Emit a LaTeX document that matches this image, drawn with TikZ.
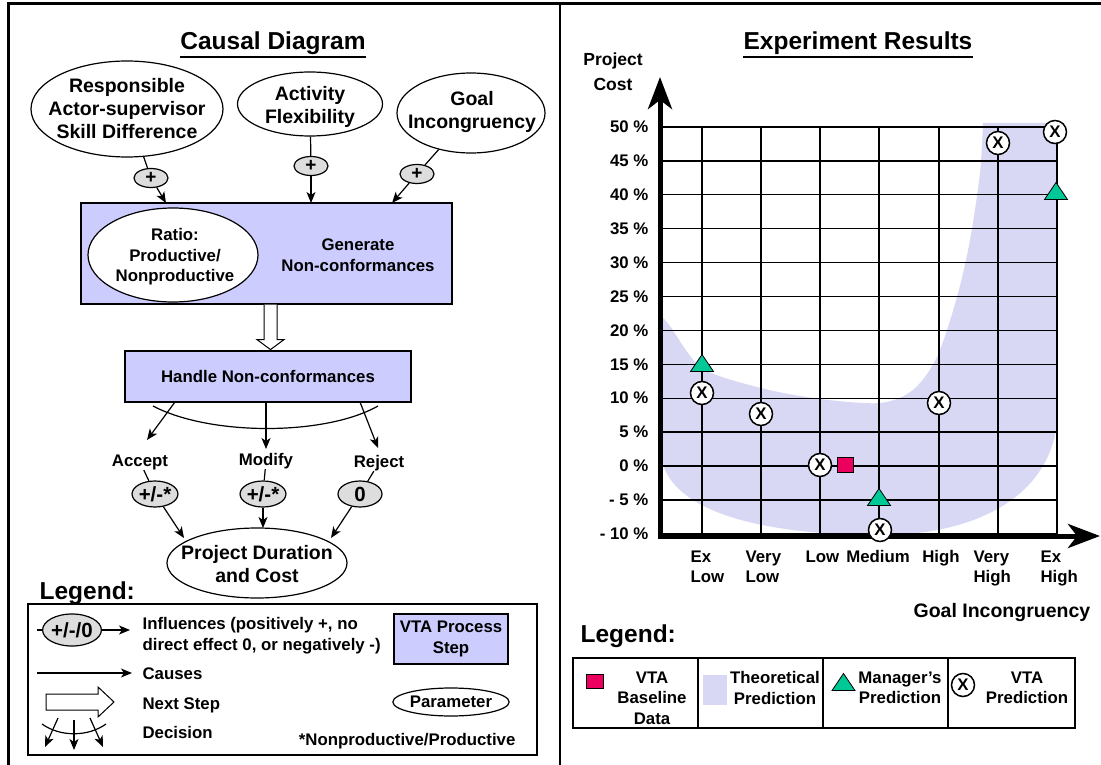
\documentclass[tikz,border=0pt]{standalone}
\usepackage{fontspec}
\setmainfont{Liberation Sans}
\usetikzlibrary{shapes.geometric,arrows.meta,calc}
\newcommand\fsmall{\fontsize{16.8}{20.5}\selectfont}
\newcommand\fmid{\fontsize{19.5}{23}\selectfont}
\newcommand\fbig{\fontsize{24.5}{29}\selectfont}
\newcommand\fbadge{\fontsize{20.5}{20.5}\selectfont}
\definecolor{procblue}{RGB}{204,204,255}
\definecolor{badgegray}{RGB}{221,221,221}
\definecolor{hatchblue}{RGB}{216,216,245}
\definecolor{mgrgreen}{RGB}{0,200,150}
\definecolor{basepink}{RGB}{235,0,95}
\begin{document}
\begin{tikzpicture}[x=1pt,y=-1pt,font=\bfseries\fsmall,line width=1.2pt,
 param/.style={ellipse,draw,fill=white,inner sep=0pt},
 badge/.style={ellipse,draw,fill=badgegray,inner sep=0pt},
 plusbadge/.style={badge,minimum width=34pt,minimum height=19pt,font=\bfseries\fontsize{19}{19}\selectfont},
 proc/.style={rectangle,draw,fill=procblue,inner sep=0pt},
 arr/.style={-{Stealth[length=11pt,width=9pt,inset=3pt]}},
 txt/.style={align=center,inner sep=0pt},
 lbl/.style={inner sep=0pt,anchor=base},
 lblw/.style={inner sep=0pt,anchor=base west},
 grid/.style={line width=1.3pt},
 axis/.style={line width=5pt,-{Stealth[length=32pt,width=24pt,inset=9pt]}},
 xmark/.style={circle,draw,fill=white,line width=1.5pt,minimum size=23pt,inner sep=0pt},
 pinksq/.style={rectangle,draw,fill=basepink,line width=0.8pt,minimum width=16pt,minimum height=15pt,inner sep=0pt},
 hatch/.style={fill=hatchblue},
 hollow/.style={draw,fill=white,line width=1pt},
 mtri/.pic={\draw[fill=mgrgreen,line width=0.8pt] (0,-9) -- (11.5,8) -- (-11.5,8) -- cycle;}
]
\useasboundingbox (0,0) rectangle (1101,765);
\fill[white] (0,0) rectangle (1101,765);
% frame
\draw[line width=3pt] (8,765) -- (8,4) -- (1101,4);
\draw[line width=1.5pt] (560,4) -- (560,765);

% ===================== LEFT PANEL =====================
\node[lbl,font=\bfseries\fbig] (ctitle) at (273,50) {Causal Diagram};
\draw[line width=2pt] ([yshift=-7.5pt]ctitle.base west) -- ([yshift=-7.5pt]ctitle.base east);

\node[param,minimum width=192pt,minimum height=96pt] (resp) at (127,109) {};
\node[txt,font=\bfseries\fmid] (resptxt) at (127,109) {Responsible\\Actor-supervisor\\Skill Difference};
\node[param,minimum width=145pt,minimum height=64pt] (act) at (310,104) {};
\node[txt,font=\bfseries\fmid] (acttxt) at (310,107) {Activity\\Flexibility};
\node[param,minimum width=148pt,minimum height=80pt] (goal) at (471,113) {};
\node[txt,font=\bfseries\fmid] (goaltxt) at (472,112) {Goal\\Incongruency};

\node[plusbadge] (b1) at (151,178) {+};
\node[plusbadge] (b2) at (311,166) {+};
\node[plusbadge] (b3) at (417,174) {+};

\node[proc,minimum width=371pt,minimum height=101pt] (gen) at (266.5,253.5) {};
\coordinate (g1) at (166,203);
\coordinate (g2) at (311,203);
\coordinate (g3) at (392,203);
\draw (resp) -- (b1); \draw[arr] (b1) -- (g1);
\draw (act) -- (b2);  \draw[arr] (b2) -- (g2);
\draw (goal) -- (b3); \draw[arr] (b3) -- (g3);

\node[param,minimum width=170pt,minimum height=94pt] (ratio) at (173,255) {};
\node[txt] (ratiotxt) at (175,257) {Ratio:\\Productive/\\Nonproductive};
\node[txt] (gentxt) at (358,255) {Generate\\Non-conformances};

\draw[hollow] ($(gen.south)+(-2.5,0)$) -- ++(0,35) -- ++(-7,0) -- ++(13.5,10) -- ++(13.5,-10) -- ++(-7,0) -- ++(0,-35);

\node[proc,minimum width=286pt,minimum height=51pt] (hand) at (268,376.5) {Handle Non-conformances};

\draw (153,406) .. controls (210,436) and (325,436) .. (378,406);
\coordinate (h1) at (175,402);
\coordinate (h2) at (266,402);
\coordinate (h3) at (360,402);
\coordinate (a1) at (147,440);
\coordinate (a2) at (266,449);
\coordinate (a3) at (378,448);
\draw[arr] (h1) -- (a1);
\draw[arr] (h2) -- (a2);
\draw[arr] (h3) -- (a3);

\node[lbl] (acc) at (140,466) {Accept};
\node[lbl] (mod) at (266,465) {Modify};
\node[lbl] (rej) at (379,467) {Reject};

\node[badge,minimum width=44pt,minimum height=26pt,font=\bfseries\fbadge] (p1) at (155,494) {+/-*};
\node[badge,minimum width=44pt,minimum height=26pt,font=\bfseries\fbadge] (p2) at (263,494) {+/-*};
\node[badge,minimum width=44pt,minimum height=26pt,font=\bfseries\fbadge] (p3) at (360,494) {0};
\draw (acc) -- (p1);
\draw (mod) -- (p2);
\draw (rej) -- (p3);

\node[param,minimum width=180pt,minimum height=70pt] (pd) at (257,563) {};
\node[txt,font=\bfseries\fmid] (pdtxt) at (257,564) {Project Duration\\and Cost};
\coordinate (pd1) at (184,538);
\coordinate (pd2) at (263,528);
\coordinate (pd3) at (331,538);
\draw[arr] (p1) -- (pd1);
\draw[arr] (p2) -- (pd2);
\draw[arr] (p3) -- (pd3);

% left legend
\node[lblw,font=\bfseries\fbig] (legl) at (39,599) {Legend:};
\node[draw,line width=1.2pt,minimum width=509pt,minimum height=151pt,inner sep=0pt] (legbox) at (282.5,679.5) {};
\node[badge,minimum width=54pt,minimum height=32pt,font=\bfseries\fbadge] (lb) at (72,630) {+/-/0};
\coordinate (lb0) at (37,630);
\coordinate (lb1) at (130,630);
\draw (lb0) -- (lb);
\draw[arr] (lb) -- (lb1);
\node[lblw] (inf1) at (142,629) {Influences (positively +, no};
\node[lblw] (inf2) at (142,650) {direct effect 0, or negatively -)};
\node[proc,minimum width=114pt,minimum height=50pt,align=center] (lproc) at (451,639) {VTA Process\\Step};
\coordinate (c0) at (37,673);
\coordinate (c1) at (132,673);
\draw[arr] (c0) -- (c1);
\node[lblw] (causes) at (142,679) {Causes};
\draw[hollow] (46,694) -- (98,694) -- (98,687) -- (114,702) -- (98,717) -- (98,710) -- (46,710) -- cycle;
\node[lblw] (nexts) at (142,709) {Next Step};
\node[param,minimum width=112pt,minimum height=28pt] (lparam) at (451,702) {Parameter};
\draw (42,724) .. controls (60,737) and (88,737) .. (106,724);
\draw[arr] (58,718) -- (45,747);
\draw[arr] (74,720) -- (74,750);
\draw[arr] (90,718) -- (103,747);
\node[lblw] (decis) at (142,738) {Decision};
\node[inner sep=0pt,anchor=base east] (nonprod) at (516,745) {*Nonproductive/Productive};

% ===================== RIGHT PANEL =====================
\node[lbl,font=\bfseries\fbig] (rtitle) at (858,50) {Experiment Results};
\draw[line width=2pt] ([yshift=-7.5pt]rtitle.base west) -- ([yshift=-7.5pt]rtitle.base east);
\node[lbl,font=\bfseries\fontsize{17.5}{21}\selectfont] (pc1) at (613,66) {Project};
\node[lbl,font=\bfseries\fontsize{17.5}{21}\selectfont] (pc2) at (613,91) {Cost};

% theoretical prediction region
\fill[hatch] (663,318) -- (663,465) .. controls (680,515) and (770,535) .. (880,535)
  .. controls (985,535) and (1052,490) .. (1057,420) -- (1057,123) -- (983,123)
  -- plot[smooth] coordinates {(983,123) (980,173) (970,240) (957,297) (937,357) (913,390) (880,403) (820,399) (761,388) (702,368) (670,326) (663,318)} -- cycle;

% grid
\foreach \i in {0,...,12} \draw[grid] (660,127+\i*33.9) -- (1057,127+\i*33.9);
\foreach \x in {702,761,820,879,939,998,1057} \draw[grid] (\x,127) -- (\x,536);
\foreach \i/\lab in {0/50,1/45,2/40,3/35,4/30,5/25,6/20,7/15,8/10,9/5,10/0,11/- 5,12/- 10}
  \node[anchor=east,inner sep=0pt] (yl\i) at (649,127+\i*33.9) {\lab~\%};

% axes
\coordinate (ytip) at (660,77);
\coordinate (xtip) at (1100,536);
\coordinate (ybot) at (660,538.5);
\coordinate (xleft) at (657.5,536);
\draw[axis] (ybot) -- (ytip);
\draw[axis] (xleft) -- (xtip);

% x labels
\node[lblw] (xl1a) at (690,562) {Ex};
\node[lblw] (xl1b) at (690,582) {Low};
\node[lblw] (xl2a) at (745,562) {Very};
\node[lblw] (xl2b) at (745,582) {Low};
\node[lblw] (xl3) at (805,562) {Low};
\node[lbl] (xl4) at (878,562) {Medium};
\node[lbl] (xl5) at (941,562) {High};
\node[lblw] (xl6a) at (973,562) {Very};
\node[lblw] (xl6b) at (973,582) {High};
\node[lblw] (xl7a) at (1040,562) {Ex};
\node[lblw] (xl7b) at (1040,582) {High};
\node[lblw,font=\bfseries\fmid] (xtitle) at (913,617) {Goal Incongruency};

% data markers
\pic at (702,363.5) {mtri};
\pic at (879,497.5) {mtri};
\pic at (1056,191.5) {mtri};
\node[xmark] (xm1) at (702,393) {X};
\node[xmark] (xm2) at (761,414) {X};
\node[xmark] (xm3) at (820,465) {X};
\node[xmark] (xm4) at (880,530) {X};
\node[xmark] (xm5) at (939,403) {X};
\node[xmark] (xm6) at (998,143) {X};
\node[xmark] (xm7) at (1055,132) {X};
\node[pinksq] (base0) at (845,465) {};

% right legend
\node[lblw,font=\bfseries\fbig] (legr) at (580,642) {Legend:};
\draw[line width=1.2pt] (573,658) rectangle (1075,728);
\draw[line width=1.2pt] (698,658) -- (698,728);
\draw[line width=1.2pt] (823,658) -- (823,728);
\draw[line width=1.2pt] (948,658) -- (948,728);
\node[pinksq,minimum width=17pt,minimum height=14pt] (lsq) at (594.5,681) {};
\node[txt] (lt1) at (652,698) {VTA\\Baseline\\Data};
\fill[hatch] (703,675) rectangle (727,705);
\node[txt] (lt2) at (775,688) {Theoretical\\Prediction};
\pic at (843.5,682.5) {mtri};
\node[txt] (lt3) at (900,688) {Manager’s\\Prediction};
\node[xmark] (lxm) at (963,685) {X};
\node[txt] (lt4) at (1027,688) {VTA\\Prediction};
\end{tikzpicture}
\end{document}
